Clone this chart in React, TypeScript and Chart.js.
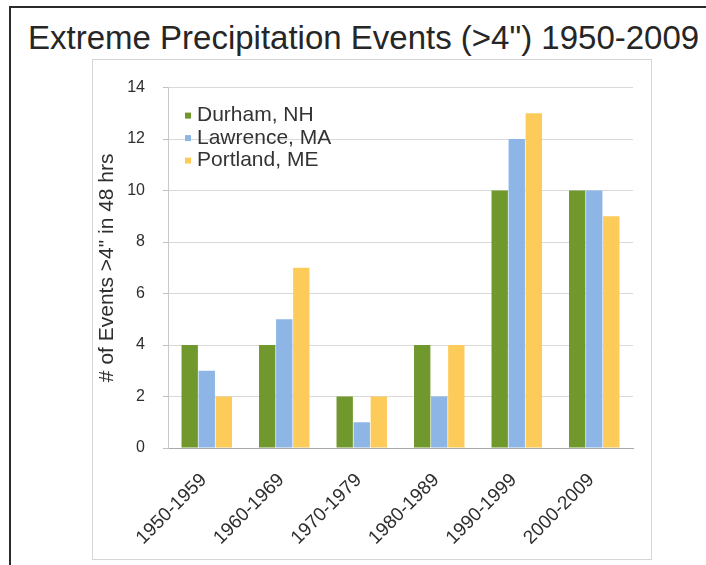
import React, { useEffect, useRef } from "react";
import { Chart, registerables } from "chart.js";

Chart.register(...registerables);

const titleText = 'Extreme Precipitation Events (>4") 1950-2009';
const yAxisTitle = '# of Events >4" in 48 hrs';
const categories = ["1950-1959", "1960-1969", "1970-1979", "1980-1989", "1990-1999", "2000-2009"];
const seriesLabels = ["Durham, NH", "Lawrence, MA", "Portland, ME"];
const durham = [4, 4, 2, 4, 10, 10];
const lawrence = [3, 5, 1, 2, 12, 10];
const portland = [2, 7, 2, 4, 13, 9];
const seriesColors = ["#71982D", "#8DB6E6", "#FDCB5A"];
const yMin = 0;
const yMax = 14;
const yStep = 2;

const FONT = '"Liberation Sans", Arial, sans-serif';

const insideLegend = {
  id: "insideLegend",
  afterDraw(chart: any) {
    const { ctx, chartArea } = chart;
    ctx.save();
    ctx.font = `21px ${FONT}`;
    ctx.textBaseline = "middle";
    ctx.textAlign = "left";
    chart.data.datasets.forEach((ds: any, i: number) => {
      const y = chartArea.top + 28 + i * 22.5;
      const x = chartArea.left + 17;
      ctx.fillStyle = ds.backgroundColor;
      ctx.fillRect(x, y - 3, 6, 6);
      ctx.fillStyle = "#333333";
      ctx.fillText(ds.label, x + 12, y);
    });
    ctx.restore();
  },
};

function ChartBox() {
  const ref = useRef<HTMLCanvasElement | null>(null);
  useEffect(() => {
    if (!ref.current) return;
    const chart = new Chart(ref.current, {
      type: "bar",
      data: {
        labels: categories,
        datasets: [
          { label: seriesLabels[0], data: durham, backgroundColor: seriesColors[0] },
          { label: seriesLabels[1], data: lawrence, backgroundColor: seriesColors[1] },
          { label: seriesLabels[2], data: portland, backgroundColor: seriesColors[2] },
        ],
      },
      options: {
        animation: false,
        responsive: false,
        devicePixelRatio: 1,
        layout: { padding: { left: 0, right: 18, top: 17, bottom: 0 } },
        datasets: {
          bar: { categoryPercentage: 0.66, barPercentage: 0.96 },
        },
        plugins: {
          legend: { display: false },
          tooltip: { enabled: false },
          title: { display: false },
        },
        scales: {
          x: {
            grid: { display: false },
            border: { display: true, color: "#a9a9a9", width: 1 },
            ticks: {
              font: { family: FONT, size: 19 },
              color: "#2e2e2e",
              minRotation: 45,
              maxRotation: 45,
              autoSkip: false,
              padding: 13,
              labelOffset: -3,
            },
            afterFit: (scale: any) => {
              scale.height = 111;
            },
          },
          y: {
            min: yMin,
            max: yMax,
            ticks: {
              stepSize: yStep,
              font: { family: FONT, size: 16 },
              color: "#2e2e2e",
              padding: 18,
            },
            grid: {
              color: "#d9d9d9",
              tickColor: "#bfbfbf",
              tickLength: 5,
              drawTicks: true,
            },
            border: { display: true, color: "#c8c8c8" },
            title: {
              display: true,
              text: yAxisTitle,
              font: { family: FONT, size: 21 },
              color: "#2e2e2e",
              padding: { top: 2, bottom: 0 },
            },
            afterFit: (scale: any) => {
              scale.width = 75;
            },
          },
        },
      },
      plugins: [insideLegend],
    });
    return () => chart.destroy();
  }, []);
  return <canvas ref={ref} width={558} height={499} style={{ display: "block", width: 558, height: 499 }} />;
}

export default function App() {
  return (
    <div style={{ position: "fixed", left: 0, top: 0, width: 706, height: 565, background: "#ffffff", overflow: "hidden" }}>
      <div
        style={{
          position: "absolute",
          left: 9,
          top: 6,
          width: 720,
          height: 580,
          borderLeft: "2px solid #2b2b2b",
          borderTop: "2px solid #2b2b2b",
        }}
      />
      <div
        style={{
          position: "absolute",
          left: 28,
          top: 21,
          fontFamily: FONT,
          fontSize: 33,
          lineHeight: "33px",
          color: "#262626",
          whiteSpace: "nowrap",
        }}
      >
        {titleText}
      </div>
      <div
        style={{
          position: "absolute",
          left: 92,
          top: 59,
          width: 558,
          height: 499,
          border: "1px solid #d6d6d6",
          background: "#ffffff",
        }}
      >
        <ChartBox />
      </div>
    </div>
  );
}
